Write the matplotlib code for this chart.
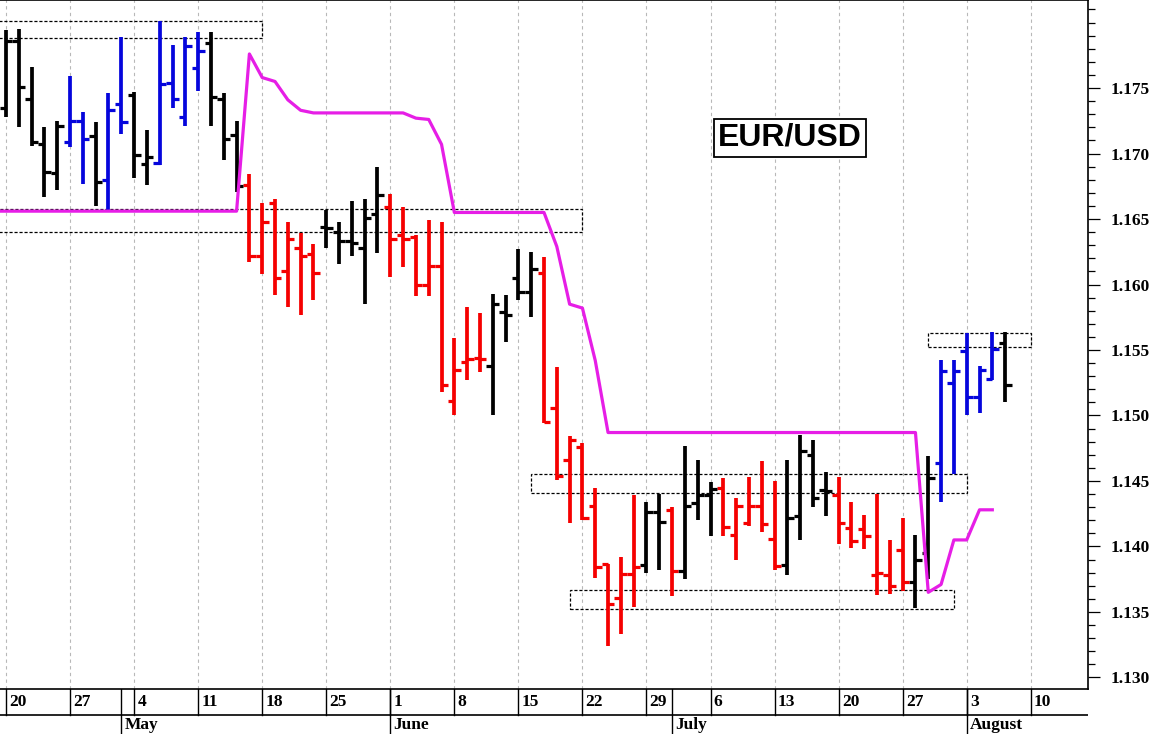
import matplotlib
matplotlib.use('Agg')
import matplotlib.pyplot as plt
from matplotlib.patches import Rectangle
from matplotlib.ticker import MultipleLocator, FixedLocator, FormatStrFormatter
import numpy as np
import pandas as pd

# ~~~~~~~~~~~~ Data (daily EUR/USD bars) ~~~~~~~~~~~~
first_day = '2026-04-20'

opens = [1.1735, 1.1786, 1.1742, 1.1707, 1.1685, 1.1709, 1.1725, 1.1713, 1.1680, 1.1738,
         1.1745, 1.1692, 1.1693, 1.1754, 1.1728, 1.1765, 1.1784, 1.1742, 1.1714, 1.1676,
         1.1622, 1.1662, 1.1610, 1.1628, 1.1623, 1.1644, 1.1640, 1.1633, 1.1628, 1.1654,
         1.1659, 1.1638, 1.1636, 1.1600, 1.1614, 1.1511, 1.1541, 1.1544, 1.1538, 1.1579,
         1.1605, 1.1594, 1.1609, 1.1506, 1.1466, 1.1476, 1.1431, 1.1387, 1.1361, 1.1379,
         1.1386, 1.1426, 1.1428, 1.1381, 1.1433, 1.1439, 1.1445, 1.1409, 1.1418, 1.1431,
         1.1406, 1.1386, 1.1423, 1.1470, 1.1443, 1.1439, 1.1414, 1.1413, 1.1378, 1.1378,
         1.1397, 1.1373, 1.1395, 1.1464, 1.1525, 1.1549, 1.1514, 1.1528, 1.1555]
highs = [1.1794, 1.1795, 1.1766, 1.1720, 1.1725, 1.1759, 1.1732, 1.1724, 1.1746, 1.1789,
         1.1747, 1.1718, 1.1801, 1.1783, 1.1789, 1.1793, 1.1793, 1.1746, 1.1725, 1.1684,
         1.1662, 1.1665, 1.1648, 1.1639, 1.1631, 1.1657, 1.1648, 1.1664, 1.1665, 1.1690,
         1.1669, 1.1659, 1.1638, 1.1649, 1.1648, 1.1559, 1.1583, 1.1578, 1.1593, 1.1592,
         1.1627, 1.1625, 1.1621, 1.1537, 1.1484, 1.1479, 1.1445, 1.1387, 1.1392, 1.1439,
         1.1434, 1.1440, 1.1430, 1.1477, 1.1466, 1.1449, 1.1452, 1.1437, 1.1453, 1.1465,
         1.1450, 1.1466, 1.1485, 1.1481, 1.1457, 1.1453, 1.1434, 1.1424, 1.1440, 1.1405,
         1.1422, 1.1409, 1.1469, 1.1542, 1.1542, 1.1563, 1.1538, 1.1564, 1.1564]
lows = [1.1728, 1.1720, 1.1706, 1.1667, 1.1672, 1.1705, 1.1677, 1.1660, 1.1656, 1.1715,
        1.1681, 1.1676, 1.1691, 1.1735, 1.1721, 1.1748, 1.1721, 1.1695, 1.1671, 1.1617,
        1.1608, 1.1592, 1.1583, 1.1577, 1.1588, 1.1628, 1.1616, 1.1622, 1.1585, 1.1624,
        1.1606, 1.1613, 1.1591, 1.1591, 1.1518, 1.1500, 1.1527, 1.1533, 1.1500, 1.1556,
        1.1588, 1.1575, 1.1494, 1.1451, 1.1418, 1.1420, 1.1376, 1.1324, 1.1333, 1.1354,
        1.1380, 1.1382, 1.1362, 1.1375, 1.1420, 1.1408, 1.1408, 1.1390, 1.1416, 1.1411,
        1.1382, 1.1378, 1.1405, 1.1430, 1.1423, 1.1402, 1.1399, 1.1398, 1.1363, 1.1364,
        1.1366, 1.1353, 1.1375, 1.1434, 1.1455, 1.1500, 1.1502, 1.1527, 1.1510]
closes = [1.1786, 1.1751, 1.1709, 1.1686, 1.1721, 1.1725, 1.1711, 1.1678, 1.1733, 1.1724,
          1.1699, 1.1697, 1.1753, 1.1742, 1.1782, 1.1778, 1.1743, 1.1711, 1.1675, 1.1622,
          1.1648, 1.1605, 1.1635, 1.1622, 1.1609, 1.1643, 1.1633, 1.1632, 1.1651, 1.1668,
          1.1635, 1.1635, 1.1600, 1.1614, 1.1523, 1.1535, 1.1543, 1.1543, 1.1585, 1.1577,
          1.1594, 1.1612, 1.1495, 1.1454, 1.1481, 1.1422, 1.1384, 1.1356, 1.1379, 1.1384,
          1.1426, 1.1419, 1.1381, 1.1431, 1.1439, 1.1444, 1.1415, 1.1431, 1.1431, 1.1417,
          1.1385, 1.1422, 1.1473, 1.1437, 1.1442, 1.1418, 1.1404, 1.1408, 1.1380, 1.1370,
          1.1373, 1.1390, 1.1452, 1.1534, 1.1534, 1.1514, 1.1535, 1.1551, 1.1523]
# bar state: k = neutral, b = bullish, r = bearish
signal = list('kkkkkbbkbbkkbbbbkkkrrrrrrkkkkkrrrrrrrrkkkkrrrrrrrrkkrkkkrrrrrkkkkrrrrrrkkbbbbbk')

# trailing stop line, starts one day before the first bar
stop_start = '2026-04-17'
stop_line = [1.1656, 1.1656, 1.1656, 1.1656, 1.1656, 1.1656, 1.1656, 1.1656, 1.1656, 1.1656,
             1.1656, 1.1656, 1.1656, 1.1656, 1.1656, 1.1656, 1.1656, 1.1656, 1.1656, 1.1656,
             1.1776, 1.1758, 1.1755, 1.1741, 1.1733, 1.1731, 1.1731, 1.1731, 1.1731, 1.1731,
             1.1731, 1.1731, 1.1731, 1.1727, 1.1726, 1.1707, 1.1655, 1.1655, 1.1655, 1.1655,
             1.1655, 1.1655, 1.1655, 1.1655, 1.1629, 1.1585, 1.1582, 1.1542, 1.1487, 1.1487,
             1.1487, 1.1487, 1.1487, 1.1487, 1.1487, 1.1487, 1.1487, 1.1487, 1.1487, 1.1487,
             1.1487, 1.1487, 1.1487, 1.1487, 1.1487, 1.1487, 1.1487, 1.1487, 1.1487, 1.1487,
             1.1487, 1.1487, 1.1487, 1.1365, 1.1371, 1.1405, 1.1405, 1.1428, 1.1428]

# support / resistance zones: start day, end day, low, high
zone_start = ['2026-04-16', '2026-04-16', '2026-06-16', '2026-06-19', '2026-07-29']
zone_end = ['2026-05-18', '2026-06-22', '2026-08-03', '2026-07-31', '2026-08-10']
zone_low = [1.1788, 1.1640, 1.1441, 1.1352, 1.1552]
zone_high = [1.1801, 1.1658, 1.1455, 1.1367, 1.1563]

price_labels = [1.130, 1.135, 1.140, 1.145, 1.150, 1.155, 1.160, 1.165, 1.170, 1.175]
axis_end = '2026-08-10'
# ~~~~~~~~~~~~~~~~~~~~~~~~~~~~~~~~~~~~~~~~~~~~~~~~~~~~~~~~~~~~~~~~~~~~~~

def day_pos(dates):
    # trading-day position relative to the first bar
    d = pd.DatetimeIndex(dates).values.astype('datetime64[D]')
    return np.busday_count(np.datetime64(first_day), d)

bar_dates = pd.bdate_range(first_day, periods=len(opens))
x = day_pos(bar_dates)
color_map = {'k': 'black', 'b': '#0505dc', 'r': '#f50000'}
cols = [color_map[s] for s in signal]

W, H = 1159, 734
fig = plt.figure(figsize=(W / 100, H / 100), dpi=100)
ax = fig.add_axes([0, 45 / H, 1088 / W, 689 / H])
axd = fig.add_axes([0, 0, 1088 / W, 45 / H])

# OHLC bars
tick = 0.5
ax.vlines(x, lows, highs, colors=cols, lw=2.7, capstyle='butt', zorder=3)
ax.hlines(opens, x - tick, x, colors=cols, lw=2.3, capstyle='butt', zorder=3)
ax.hlines(closes, x, x + tick, colors=cols, lw=2.3, capstyle='butt', zorder=3)

# trailing stop
stop_x = day_pos(pd.bdate_range(stop_start, periods=len(stop_line)))
ax.plot(stop_x, stop_line, color='#e61ee6', lw=2.3, zorder=4)

# zones
zs = day_pos(zone_start)
ze = day_pos(zone_end)
for s, e, lo, hi in zip(zs, ze, zone_low, zone_high):
    ax.add_patch(Rectangle((s, lo), e - s, hi - lo, fill=False, ec='black',
                           lw=0.9, ls=(0, (2.5, 1.5)), zorder=2))

ax.text(0.726, 0.80, 'EUR/USD', transform=ax.transAxes, ha='center', va='center',
        fontsize=23, fontweight='bold', family='Liberation Sans', zorder=5,
        bbox=dict(boxstyle='square,pad=0.12', fc='white', ec='black', lw=1.3))

# axes / scales
xmin, xmax = -0.47, 84.47
ax.set_xlim(xmin, xmax)
ax.set_ylim(1.12912, 1.18172)
mondays = pd.date_range(first_day, axis_end, freq='W-MON')
week_x = day_pos(mondays)
ax.set_xticks(week_x)
ax.tick_params(axis='x', bottom=False, labelbottom=False)
ax.grid(axis='x', color='#b8b8b8', ls=(0, (3, 3)), lw=0.8)
ax.set_axisbelow(True)

ax.yaxis.tick_right()
ax.yaxis.set_major_locator(FixedLocator(price_labels))
ax.yaxis.set_minor_locator(MultipleLocator(0.001))
ax.yaxis.set_major_formatter(FormatStrFormatter('%.3f'))
ax.tick_params(axis='y', which='major', direction='out', length=8.5, width=0.9, pad=8,
               labelsize=12.5)
ax.tick_params(axis='y', which='minor', direction='out', length=5, width=0.9)
for lab in ax.get_yticklabels():
    lab.set_family('Liberation Serif')
    lab.set_fontweight('bold')
ax.spines['left'].set_visible(False)
for sp in ['top', 'right', 'bottom']:
    ax.spines[sp].set_linewidth(1.2)

# date rows below the chart
axd.set_xlim(xmin, xmax)
axd.set_ylim(0, 1)
axd.axis('off')
row = 19 / 45
axd.axhline(row, color='black', lw=1.2)
month_starts = pd.date_range('2026-05-01', axis_end, freq='BMS')
month_x = day_pos(month_starts)
for wx, d in zip(week_x, mondays):
    axd.plot([wx, wx], [row, 1], color='black', lw=1)
    axd.text(wx + 0.25, (row + 1) / 2, str(d.day), ha='left', va='center',
             fontsize=12.5, fontweight='bold', family='Liberation Serif')
for mx, d in zip(month_x, month_starts):
    axd.plot([mx, mx], [0, 1], color='black', lw=1)
    axd.text(mx + 0.25, row / 2 - 0.02, d.strftime('%B'), ha='left', va='center',
             fontsize=12.5, fontweight='bold', family='Liberation Serif')

fig.savefig('out.png', dpi=100)
